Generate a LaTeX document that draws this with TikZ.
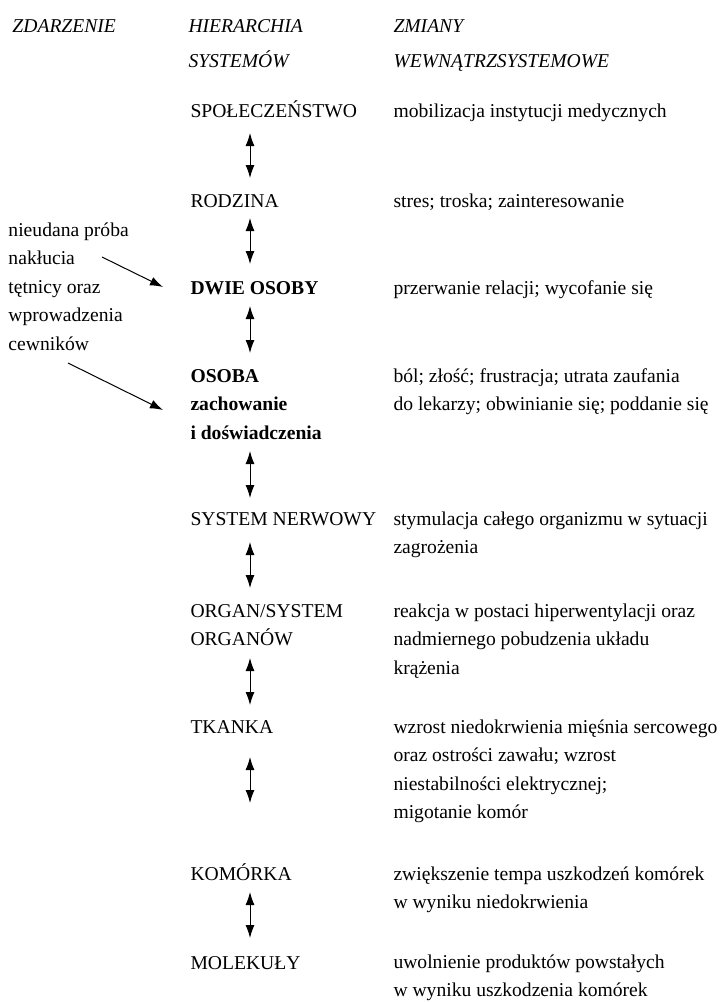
\documentclass[tikz,border=0pt]{standalone}
\usepackage{fontspec}
\setmainfont{Liberation Serif}
\usetikzlibrary{arrows.meta}

\tikzset{
  txt/.style={anchor=base west,inner sep=0pt,align=left,
    font=\fontsize{19.6}{28.5}\selectfont},
  head/.style={txt,font=\fontsize{19.6}{35}\selectfont\itshape},
  lvl/.style={txt},
  lvlb/.style={txt,font=\fontsize{19.6}{28.5}\selectfont\bfseries},
}

\begin{document}
\begin{tikzpicture}[x=1pt,y=-1pt,>={Latex[length=13pt,width=9pt]},line width=1pt]
\useasboundingbox (0,0) rectangle (722,1002);

% naglowki (wielowierszowe: y = linia bazowa ostatniego wiersza)
\node(hz) at (12,32)[head] {ZDARZENIE};
\node(hh) at (188,67)[head] {HIERARCHIA\\SYSTEMÓW};
\node(hm) at (393,67)[head] {ZMIANY\\WEWNĄTRZSYSTEMOWE};

% hierarchia
\node(spol) at (190,117)[lvl] {SPOŁECZEŃSTWO};
\node(rodz) at (190,207)[lvl] {RODZINA};
\node(dwie) at (190,294)[lvlb] {DWIE OSOBY};
\node(osob) at (190,439)[lvlb] {OSOBA\\zachowanie\\i doświadczenia};
\node(nerw) at (190,525)[lvl] {SYSTEM NERWOWY};
\node(orga) at (190,645.5)[lvl] {ORGAN/SYSTEM\\ORGANÓW};
\node(tkan) at (190,733)[lvl] {TKANKA};
\node(kom) at (190,880)[lvl] {KOMÓRKA};
\node(mol) at (190,969)[lvl] {MOLEKUŁY};

% zmiany
\node(zspol) at (393,117)[txt] {mobilizacja instytucji medycznych};
\node(zrodz) at (393,207)[txt] {stres; troska; zainteresowanie};
\node(zdwie) at (393,294)[txt] {przerwanie relacji; wycofanie się};
\node(zosob) at (393,410.5)[txt] {ból; złość; frustracja; utrata zaufania\\do lekarzy; obwinianie się; poddanie się};
\node(znerw) at (393,553.5)[txt] {stymulacja całego organizmu w sytuacji\\zagrożenia};
\node(zorga) at (393,674)[txt] {reakcja w postaci hiperwentylacji oraz\\nadmiernego pobudzenia układu\\krążenia};
\node(ztkan) at (393,818.5)[txt] {wzrost niedokrwienia mięśnia sercowego\\oraz ostrości zawału; wzrost\\niestabilności elektrycznej;\\migotanie komór};
\node(zkom) at (393,908.5)[txt] {zwiększenie tempa uszkodzeń komórek\\w wyniku niedokrwienia};
\node(zmol) at (393,996.5)[txt] {uwolnienie produktów powstałych\\w wyniku uszkodzenia komórek};

% zdarzenie
\node(zd) at (8,350)[txt] {nieudana próba\\nakłucia\\tętnicy oraz\\wprowadzenia\\cewników};

% strzalki
\coordinate(a1) at (250,133); \coordinate(b1) at (250,178);
\coordinate(a2) at (250,218); \coordinate(b2) at (250,264);
\coordinate(a3) at (250,306); \coordinate(b3) at (250,353);
\coordinate(a4) at (250,451); \coordinate(b4) at (250,498);
\coordinate(a5) at (250,542); \coordinate(b5) at (250,588);
\coordinate(a6) at (250,658); \coordinate(b6) at (250,705);
\coordinate(a7) at (250,757); \coordinate(b7) at (250,803);
\coordinate(a8) at (250,892); \coordinate(b8) at (250,938);

\draw[<->] (a1) -- (b1);
\draw[<->] (a2) -- (b2);
\draw[<->] (a3) -- (b3);
\draw[<->] (a4) -- (b4);
\draw[<->] (a5) -- (b5);
\draw[<->] (a6) -- (b6);
\draw[<->] (a7) -- (b7);
\draw[<->] (a8) -- (b8);

\coordinate(p1) at (102,257); \coordinate(q1) at (163,287);
\coordinate(p2) at (68,363); \coordinate(q2) at (163,410);
\draw[->] (p1) -- (q1);
\draw[->] (p2) -- (q2);

\end{tikzpicture}
\end{document}
